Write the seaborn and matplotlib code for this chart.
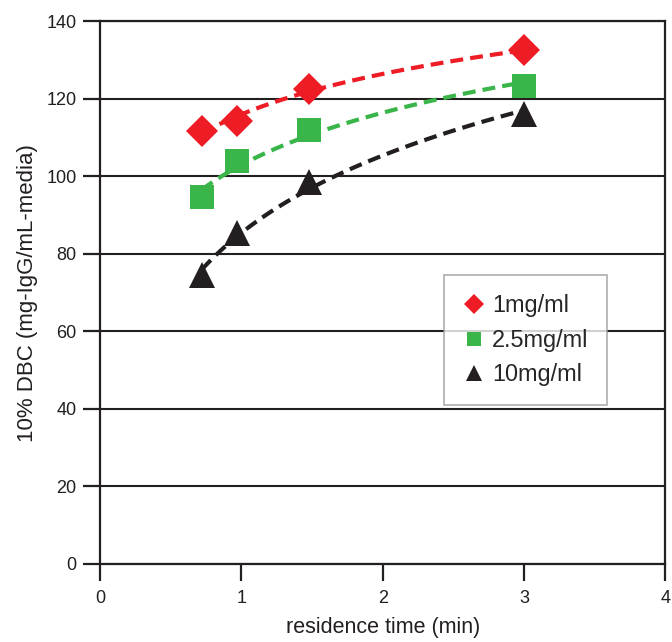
import numpy as np
import pandas as pd
import matplotlib
matplotlib.use("Agg")
import matplotlib.pyplot as plt
import seaborn as sns

# values
residence_time = [0.72, 0.97, 1.48, 3.0]
dbc_1mg = [111.8, 114.2, 122.4, 132.5]
dbc_2_5mg = [94.6, 103.9, 112.0, 123.2]
dbc_10mg = [74.5, 85.3, 98.4, 116.0]

labels = ["1mg/ml", "2.5mg/ml", "10mg/ml"]
colors = ["#ee1c25", "#3ab54a", "#231f20"]
markers = ["D", "s", "^"]
sizes = [15.8, 17.3, 18.7]
legend_sizes = [9.8, 10, 11]

sns.set_style("white")
plt.rcParams['font.family'] = ['Liberation Sans', 'DejaVu Sans']

fig = plt.figure(figsize=(6.72, 6.42), dpi=100)
ax = fig.add_axes([0.149, 0.1215, 0.841, 0.8455])

series = [dbc_1mg, dbc_2_5mg, dbc_10mg]
for vals, lab, col, mk, ms in zip(series, labels, colors, markers, sizes):
    df = pd.DataFrame({"t": residence_time, "dbc": vals})
    # logarithmic trend line through each series
    sns.regplot(data=df, x="t", y="dbc", logx=True, ci=None, scatter=False,
                ax=ax, truncate=True,
                line_kws=dict(color=col, lw=3, ls=(0, (3.1, 1.7))))
    ax.plot(df["t"], df["dbc"], ls="none", marker=mk, ms=ms, color=col,
            markeredgewidth=0, label=lab, zorder=4)

ax.set_xlim(0, 4)
ax.set_ylim(0, 140)
ax.set_xticks([0, 1, 2, 3, 4])
ax.set_yticks(np.arange(0, 141, 20))
ax.yaxis.grid(True, color="#231f20", lw=1.5)
ax.xaxis.grid(False)
ax.set_axisbelow(True)

for sp in ax.spines.values():
    sp.set_visible(True)
    sp.set_color("#231f20")
    sp.set_linewidth(1.6)

ax.tick_params(axis="both", direction="out", length=12, width=1.6,
               color="#231f20", labelsize=13, labelcolor="#231f20", pad=5,
               bottom=True, left=True)
ax.tick_params(axis="x", pad=7)

ax.set_xlabel("residence time (min)", fontsize=15.5, color="#231f20", labelpad=7)
ax.set_ylabel("10% DBC (mg-IgG/mL-media)", fontsize=16, color="#231f20", labelpad=6)

leg = ax.legend(handles=[plt.Line2D([], [], ls="none", marker=m, ms=s, color=c,
                                    markeredgewidth=0)
                         for m, s, c in zip(markers, legend_sizes, colors)],
                labels=labels, loc="upper left", bbox_to_anchor=(0.609, 0.532),
                frameon=True, fancybox=False, fontsize=16.9, handletextpad=0.34,
                borderpad=0.8, labelspacing=0.5, handlelength=0.9,
                borderaxespad=0)
leg.get_frame().set_edgecolor("#999999")
leg.get_frame().set_linewidth(1.2)

fig.savefig("out.png", dpi=100)
